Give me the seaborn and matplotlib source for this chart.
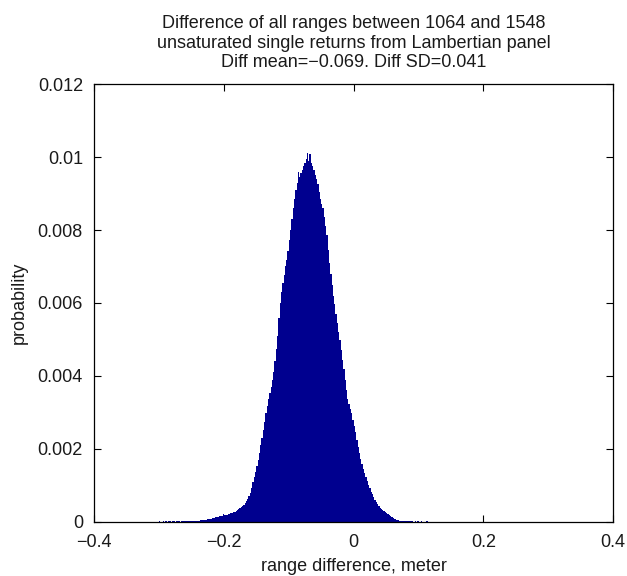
import numpy as np
import pandas as pd
import matplotlib
matplotlib.use("Agg")
import matplotlib.pyplot as plt
import seaborn as sns

# Histogram bins: width 0.002 m, first bin starts at -0.300 m
bin_start = -0.300
bin_width = 0.002
# probability per bin, in units of 1e-5
prob_e5 = [
    1, 0, 0, 1, 0, 1, 0, 1, 1, 0,
    1, 1, 0, 1, 1, 1, 0, 1, 1, 1,
    2, 1, 1, 2, 2, 1, 2, 2, 3, 2,
    3, 3, 4, 4, 5, 5, 6, 7, 7, 8,
    9, 10, 11, 12, 13, 14, 15, 15, 16, 22,
    18, 19, 20, 21, 22, 23, 24, 26, 28, 30,
    32, 35, 38, 41, 44, 47, 51, 56, 62, 70,
    80, 92, 108, 122, 138, 153, 170, 190, 210, 230,
    252, 275, 298, 318, 336, 352, 370, 390, 412, 440,
    475, 510, 560, 600, 630, 655, 678, 700, 718, 742,
    772, 800, 830, 860, 885, 910, 930, 958, 945, 955,
    965, 975, 985, 995, 1010, 990, 1008, 985, 975, 965,
    950, 940, 925, 905, 885, 872, 860, 835, 810, 785,
    745, 710, 680, 650, 620, 596, 570, 545, 520, 498,
    470, 445, 418, 390, 362, 338, 322, 310, 298, 280,
    262, 245, 225, 205, 188, 172, 158, 145, 133, 122,
    112, 102, 92, 83, 75, 68, 61, 54, 48, 43,
    39, 35, 32, 29, 26, 24, 22, 19, 16, 13,
    11, 9, 7, 5, 4, 3, 3, 2, 2, 2,
    1, 2, 1, 1, 1, 1, 0, 1, 0, 1,
    0, 0, 1, 0, 0, 0, 1, 0, 0, 0,
    0, 0, 0, 0, 0, 0, 0, 0, 0, 0,
    0, 0, 0, 0, 0, 0, 0, 0, 0, 0,
]

title_lines = [
    "Difference of all ranges between 1064 and 1548",
    "unsaturated single returns from Lambertian panel",
    "Diff mean=\u22120.069. Diff SD=0.041",
]
x_ticks = [-0.4, -0.2, 0.0, 0.2, 0.4]
x_tick_labels = ["\u22120.4", "\u22120.2", "0", "0.2", "0.4"]
y_ticks = [0, 0.002, 0.004, 0.006, 0.008, 0.01, 0.012]
y_tick_labels = ["0", "0.002", "0.004", "0.006", "0.008", "0.01", "0.012"]

sns.set_style("white")
plt.rcParams["font.family"] = ["Liberation Sans", "DejaVu Sans"]
plt.rcParams["font.size"] = 13
text_color = "#1a1a1a"

probs = np.array(prob_e5) * 1e-5
n = len(probs)
centers = bin_start + bin_width * (np.arange(n) + 0.5)
df = pd.DataFrame({"diff": centers, "prob": probs})

fig = plt.figure(figsize=(6.27, 5.76), dpi=100)
ax = fig.add_axes([0.150, 0.094, 0.828, 0.760])

sns.histplot(data=df, x="diff", weights="prob", binwidth=bin_width,
             binrange=(bin_start, bin_start + bin_width * n), stat="count",
             color="#00008F", alpha=1.0, linewidth=0,
             element="bars", fill=True, ax=ax)

ax.set_xlim(-0.4, 0.4)
ax.set_ylim(0, 0.012)
ax.set_xticks(x_ticks)
ax.set_xticklabels(x_tick_labels)
ax.set_yticks(y_ticks)
ax.set_yticklabels(y_tick_labels)
ax.tick_params(direction="in", length=5, width=0.8, top=True, right=True,
               bottom=True, left=True, labelsize=13, colors="black",
               labelcolor=text_color)
ax.tick_params(axis="x", pad=9)
ax.tick_params(axis="y", pad=8)
for s in ax.spines.values():
    s.set_visible(True)
    s.set_color("black")
    s.set_linewidth(0.9)

ax.set_xlabel("range difference, meter", fontsize=13, labelpad=5, color=text_color)
ax.set_ylabel("probability", fontsize=13, labelpad=7, color=text_color)
ax.set_title("\n".join(title_lines), fontsize=13, linespacing=1.2, pad=12,
             color=text_color)

fig.savefig("out.png", dpi=100)
